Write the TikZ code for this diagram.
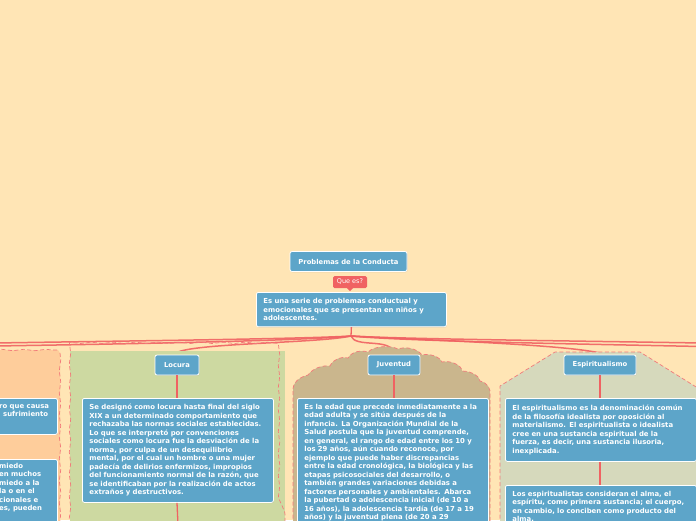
\documentclass[tikz,border=0pt]{standalone}
\usepackage{fontspec}
\setmainfont{DejaVu Sans}
\usetikzlibrary{positioning,decorations.pathmorphing,shadows}

\definecolor{bgfill}{HTML}{FFE5B5}
\definecolor{nodeblue}{HTML}{5DA5C9}
\definecolor{linkred}{HTML}{F06262}
\definecolor{grporange}{HTML}{FECD9B}
\definecolor{grpgreen}{HTML}{CDD9A1}
\definecolor{grpbrown}{HTML}{CAB68D}
\definecolor{grpsage}{HTML}{D6D9BC}

\begin{document}
\begin{tikzpicture}[x=1pt,y=-1pt,
    topic/.style={draw=white, line width=0.8pt, fill=nodeblue, rounded corners=2pt,
      text=white, font=\fontsize{6.8}{8}\selectfont\bfseries, inner sep=0pt,
      minimum height=20pt, drop shadow={opacity=0.2, shadow xshift=0.5pt, shadow yshift=-0.8pt}},
    note/.style={draw=white, line width=0.8pt, fill=nodeblue, rounded corners=2pt,
      text=white, font=\fontsize{6.9}{8.5}\selectfont\bfseries, anchor=north west,
      align=left, text width=177pt, inner xsep=7pt, inner ysep=5.5pt,
      drop shadow={opacity=0.2, shadow xshift=0.5pt, shadow yshift=-0.8pt}},
    link/.style={linkred, line width=1.5pt, opacity=0.9},
    stem/.style={linkred, line width=1.3pt},
    frame/.style={draw=linkred!85, line width=0.7pt, dash pattern=on 4pt off 2.5pt},
    wavy/.style={decorate, decoration={snake, amplitude=0.7pt, segment length=22pt}}]

  \useasboundingbox (0,0) rectangle (696,520);
  \clip (0,0) rectangle (696,520);
  \fill[bgfill] (0,0) rectangle (696,520);

  % main topic
  \node[topic, minimum width=117pt] (root) at (348.5,261.5) {Problemas de la Conducta};
  \node[fill=linkred, rounded corners=1.5pt, text=white, font=\fontsize{6.5}{7}\selectfont,
    inner sep=0pt, minimum width=34pt, minimum height=12pt] (quees) at (350,282) {Que es?};
  \fill[linkred] ([xshift=-3pt]quees.south) -- ([xshift=3pt]quees.south) -- ([yshift=-3pt]quees.south) -- cycle;
  \node[note, text width=176pt, inner xsep=7pt, inner ysep=6pt] (def) at (256,292)
    {Es una serie de problemas conductual y\\
     emocionales que se presentan en niños y\\
     adolescentes.};

  % branch points
  \coordinate (hub) at (351,336);
  \coordinate (offL1) at (-5,343);
  \coordinate (offL2) at (-5,346);
  \coordinate (offR1) at (701,343);
  \coordinate (offR2) at (701,346.5);
  \coordinate (locin) at (178,352);
  \coordinate (juvin) at (393,352);
  \coordinate (espin) at (600,353);

  \draw[stem] (def.south) -- (hub);
  \draw[link] (hub) .. controls (300,339) and (120,341) .. (offL1);
  \draw[link] (hub) .. controls (300,341) and (120,344) .. (offL2);
  \draw[link] (hub) .. controls (320,343) and (200,343) .. (locin);
  \draw[link] (hub) .. controls (400,339) and (580,341) .. (offR1);
  \draw[link] (hub) .. controls (400,341) and (580,344) .. (offR2);
  \draw[link] (hub) .. controls (420,340) and (560,344) .. (espin);
  \draw[link] (hub) .. controls (355,348) and (390,338) .. (juvin);

  % floating groups
  \fill[grporange] (-5,350) -- (58,350) -- (60,353) -- (60,525) -- (-5,525) -- cycle;
  \draw[frame, wavy] (-5,350) -- (57,350);
  \draw[frame, wavy] (60,353) -- (60,525);
  \fill[grpgreen] (70,351) rectangle (285,525);
  \draw[frame, wavy] (70,525) -- (70,351) -- (285,351) -- (285,525);
  \filldraw[frame, fill=grpbrown] (293,525) -- (293,392)
    .. controls (292,382) and (300,377) .. (308,375)
    .. controls (313,368) and (323,365) .. (330,366)
    .. controls (333,359) and (342,356) .. (348,358)
    .. controls (352,351) and (362,350) .. (368,352)
    .. controls (374,346) and (390,345) .. (398,349)
    .. controls (406,346) and (418,349) .. (422,355)
    .. controls (430,353) and (440,357) .. (442,362)
    .. controls (452,360) and (462,366) .. (462,371)
    .. controls (472,371) and (480,377) .. (480,381)
    .. controls (488,383) and (491,389) .. (490,395)
    -- (490,525);
  \filldraw[frame, fill=grpsage] (500,525) -- (500,386) -- (555,352) -- (640,352)
    -- (701,390) -- (701,525);

  % Locura
  \node[topic, minimum width=44pt] (locura) at (177,365) {Locura};
  \node[note, minimum height=104pt] (locdef) at (82,398)
    {Se designó como locura hasta final del siglo\\
     XIX a un determinado comportamiento que\\
     rechazaba las normas sociales establecidas.\\
     Lo que se interpretó por convenciones\\
     sociales como locura fue la desviación de la\\
     norma, por culpa de un desequilibrio\\
     mental, por el cual un hombre o una mujer\\
     padecía de delirios enfermizos, impropios\\
     del funcionamiento normal de la razón, que\\
     se identificaban por la realización de actos\\
     extraños y destructivos.};
  \coordinate (locnext) at (178,525);
  \draw[stem] (locura.south) -- (locura.south |- locdef.north);
  \draw[stem] (locura.south |- locdef.south) -- (locnext);

  % Juventud
  \node[topic, minimum width=52pt] (juventud) at (394,365) {Juventud};
  \node[note] (juvdef) at (297,398)
    {Es la edad que precede inmediatamente a la\\
     edad adulta y se sitúa después de la\\
     infancia. La Organización Mundial de la\\
     Salud postula que la juventud comprende,\\
     en general, el rango de edad entre los 10 y\\
     los 29 años, aún cuando reconoce, por\\
     ejemplo que puede haber discrepancias\\
     entre la edad cronológica, la biológica y las\\
     etapas psicosociales del desarrollo, o\\
     también grandes variaciones debidas a\\
     factores personales y ambientales. Abarca\\
     la pubertad o adolescencia inicial (de 10 a\\
     16 años), la adolescencia tardía (de 17 a 19\\
     años) y la juventud plena (de 20 a 29};
  \draw[stem] (juventud.south) -- (juventud.south |- juvdef.north);

  % Espiritualismo
  \node[topic, minimum width=72pt] (espir) at (600,365) {Espiritualismo};
  \node[note, minimum height=63pt] (espdef) at (505,398)
    {El espiritualismo es la denominación común\\
     de la filosofía idealista por oposición al\\
     materialismo. El espiritualista o idealista\\
     cree en una sustancia espiritual de la\\
     fuerza, es decir, una sustancia ilusoria,\\
     inexplicada.};
  \node[note] (espalma) at (505,485)
    {Los espiritualistas consideran el alma, el\\
     espíritu, como primera sustancia; el cuerpo,\\
     en cambio, lo conciben como producto del\\
     alma.};
  \draw[stem] (espir.south) -- (espir.south |- espdef.north);
  \draw[stem] (espir.south |- espdef.south) -- (espir.south |- espalma.north);

  % left group, cut at the edge
  \node[note, minimum height=36pt] (leftdef) at (-134,398) {};
  \node[anchor=north west, text=white, font=\fontsize{6.9}{8.5}\selectfont\bfseries,
    align=left, inner sep=0pt] (lefttxt) at (-1,404)
    {ro que causa\\\hspace{4pt}sufrimiento};
  \node[note, minimum height=70pt] (leftmiedo) at (-134,459) {};
  \node[anchor=north west, text=white, font=\fontsize{6.9}{8.5}\selectfont\bfseries,
    align=left, inner sep=0pt] (miedotxt) at (-1,463)
    {miedo\\en muchos\\miedo a la\\la o en el\\cionales e\\es, pueden};
\end{tikzpicture}
\end{document}
